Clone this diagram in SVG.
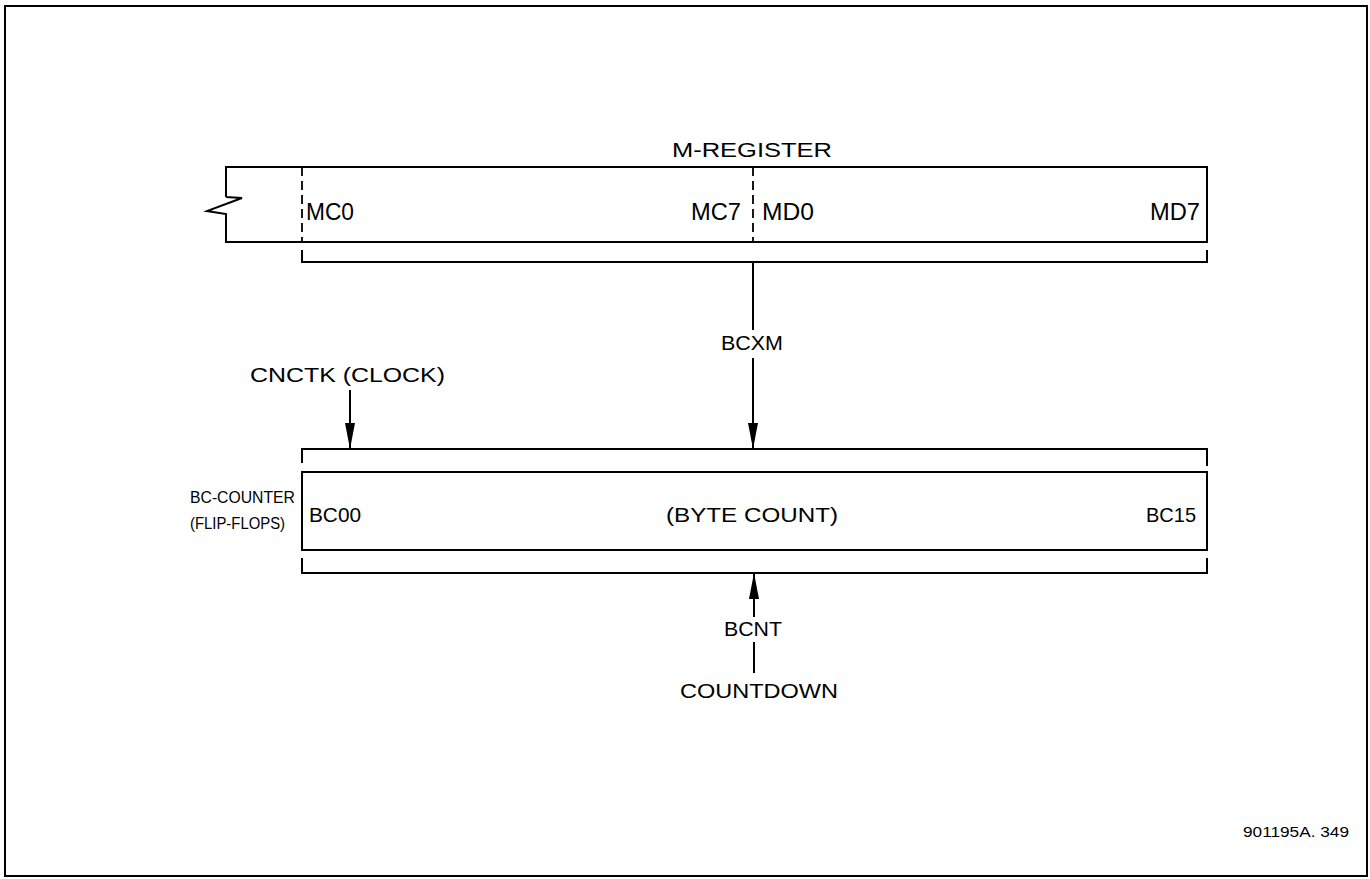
<svg xmlns="http://www.w3.org/2000/svg" width="1370" height="879" viewBox="0 0 1370 879">
<style>
.ln{fill:none;stroke:#000;stroke-width:2}
.ds{fill:none;stroke:#000;stroke-width:1.8;stroke-dasharray:9,5}
text{font-family:"Liberation Sans",Arial,sans-serif;fill:#000}
.t{font-size:21px}
.m{font-size:23px}
.b{font-size:17px}
.s{font-size:14px}
</style>
<defs>
<marker id="ah" markerWidth="26" markerHeight="10" refX="26" refY="5" orient="auto" markerUnits="userSpaceOnUse" viewBox="0 0 26 10">
<path d="M0,0 L26,5 L0,10 Z" fill="#000"/>
</marker>
</defs>
<rect x="0" y="0" width="1370" height="879" fill="#fff"/>
<rect x="5" y="6" width="1362" height="870" class="ln" stroke-width="3"/>

<g id="m-register">
<path class="ln" d="M226,197 L226,167 L1207,167 L1207,242 L226,242 L226,214 L207,211 L242,198 L226,197"/>
<line class="ds" x1="302" y1="167" x2="302" y2="242"/>
<line class="ds" x1="753" y1="167" x2="753" y2="242"/>
<path class="ln" d="M302,250 L302,262 L1207,262 L1207,250"/>
<text class="t" x="752" y="157" text-anchor="middle" textLength="160" lengthAdjust="spacingAndGlyphs">M-REGISTER</text>
<text class="m" x="306" y="220" textLength="48" lengthAdjust="spacingAndGlyphs">MC0</text>
<text class="m" x="741" y="220" text-anchor="end" textLength="50" lengthAdjust="spacingAndGlyphs">MC7</text>
<text class="m" x="762" y="220" textLength="52" lengthAdjust="spacingAndGlyphs">MD0</text>
<text class="m" x="1200" y="220" text-anchor="end" textLength="50" lengthAdjust="spacingAndGlyphs">MD7</text>
</g>

<g id="bc-counter">
<path class="ln" d="M302,463 L302,449 L1207,449 L1207,466"/>
<rect class="ln" x="302" y="472" width="905" height="78"/>
<path class="ln" d="M302,558 L302,573 L1207,573 L1207,558"/>
<text class="t" x="309" y="522" textLength="52" lengthAdjust="spacingAndGlyphs">BC00</text>
<text class="t" x="752" y="522" text-anchor="middle" textLength="172" lengthAdjust="spacingAndGlyphs">(BYTE COUNT)</text>
<text class="t" x="1196" y="522" text-anchor="end" textLength="50" lengthAdjust="spacingAndGlyphs">BC15</text>
<text class="b" x="190" y="503" textLength="105" lengthAdjust="spacingAndGlyphs">BC-COUNTER</text>
<text class="b" x="190" y="529" textLength="95" lengthAdjust="spacingAndGlyphs">(FLIP-FLOPS)</text>
</g>

<g id="labels">
<text class="t" x="250" y="382" textLength="195" lengthAdjust="spacingAndGlyphs">CNCTK (CLOCK)</text>
<text class="t" x="752" y="350" text-anchor="middle" textLength="62" lengthAdjust="spacingAndGlyphs">BCXM</text>
<text class="t" x="753" y="636" text-anchor="middle" textLength="58" lengthAdjust="spacingAndGlyphs">BCNT</text>
<text class="t" x="759" y="698" text-anchor="middle" textLength="158" lengthAdjust="spacingAndGlyphs">COUNTDOWN</text>
<text class="s" x="1243" y="837" textLength="106" lengthAdjust="spacingAndGlyphs">901195A. 349</text>
</g>

<g id="connectors">
<line class="ln" x1="753" y1="262" x2="753" y2="330"/>
<line class="ln" x1="753" y1="358" x2="753" y2="449" marker-end="url(#ah)"/>
<line class="ln" x1="350" y1="390" x2="350" y2="449" marker-end="url(#ah)"/>
<line class="ln" x1="754" y1="617" x2="754" y2="573" marker-end="url(#ah)"/>
<line class="ln" x1="754" y1="642" x2="754" y2="673"/>
</g>
</svg>
